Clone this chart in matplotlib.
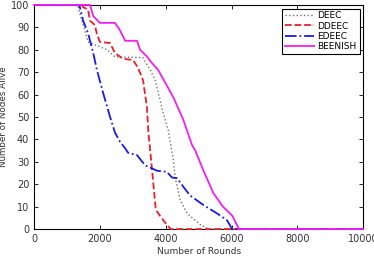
import matplotlib
matplotlib.use("Agg")
import matplotlib.pyplot as plt

# rounds / nodes alive
deec_rounds = [0, 1250, 1340, 1640, 2220, 2460, 3310, 3530, 3680, 3920, 4080, 4230, 4290, 4440, 4650, 5050, 5300, 10000]
deec_alive = [100, 100, 99, 83.5, 80, 76.8, 76.5, 71, 66.5, 52, 44, 31, 23, 13, 7, 2, 0, 0]

ddeec_rounds = [0, 1460, 1490, 1640, 1700, 1850, 1910, 2000, 2310, 2460, 2700, 3010, 3160, 3310, 3430, 3470,
                3530, 3620, 3700, 3950, 4150, 10000]
ddeec_alive = [100, 100, 99, 98, 93, 91, 87, 83.5, 83, 78.5, 76, 75.4, 72, 66.5, 54.5, 44,
               35, 21, 8.5, 3.5, 0, 0]

edeec_rounds = [0, 1370, 1400, 1490, 1640, 1800, 1910, 2100, 2310, 2460, 2610, 2770, 2860, 3130, 3370, 3740,
                4040, 4190, 4350, 4530, 4740, 5150, 5560, 5860, 6020, 10000]
edeec_alive = [100, 100, 98.6, 93, 87.5, 78.5, 71, 60.7, 50, 43, 39, 36, 34, 33, 28.5, 26,
               25.5, 23, 22.7, 19, 15, 10.7, 7, 4, 0, 0]

beenish_rounds = [0, 1700, 1800, 2000, 2460, 2600, 2770, 3130, 3220, 3430, 3530, 3770, 4000, 4225, 4530, 4800,
                  4900, 5150, 5450, 5740, 6020, 6230, 10000]
beenish_alive = [100, 100, 95, 92, 92, 89, 84, 84, 80, 77, 75, 71, 65, 59, 49, 37.5,
                 35, 26, 16, 10, 6, 0, 0]

fig = plt.figure(figsize=(3.74, 2.6), dpi=100)
ax = fig.add_axes([0.091, 0.119, 0.88, 0.862])

ax.plot(deec_rounds, deec_alive, ':', color='#707070', linewidth=1.0, label='DEEC', clip_on=False, zorder=3)
ax.plot(ddeec_rounds, ddeec_alive, '--', color='#e8202a', linewidth=1.3, label='DDEEC', clip_on=False, zorder=3)
ax.plot(edeec_rounds, edeec_alive, '-.', color='#1a1ae0', linewidth=1.3, label='EDEEC', clip_on=False, zorder=3)
ax.plot(beenish_rounds, beenish_alive, '-', color='#f020f0', linewidth=1.3, label='BEENISH', clip_on=False, zorder=3)

ax.set_xlim(0, 10000)
ax.set_ylim(0, 100)
ax.set_xticks(range(0, 10001, 2000))
ax.set_yticks(range(0, 101, 10))
ax.tick_params(direction='in', top=True, right=True, labelsize=7, length=3, width=0.6,
               labelcolor='#333333')
for s in ax.spines.values():
    s.set_linewidth(0.8)

ax.set_xlabel('Number of Rounds', fontsize=6.5, labelpad=2, color='#333333')
ax.set_ylabel('Number of Nodes Alive', fontsize=6.3, labelpad=2, color='#333333')

leg = ax.legend(loc='upper right', fontsize=6.5, fancybox=False, edgecolor='black',
                framealpha=1, handlelength=3.2, borderpad=0.3, labelspacing=0.15,
                handletextpad=0.4, borderaxespad=0.4)
leg.get_frame().set_linewidth(0.8)
leg.set_zorder(5)

fig.savefig('out.png', dpi=100)
